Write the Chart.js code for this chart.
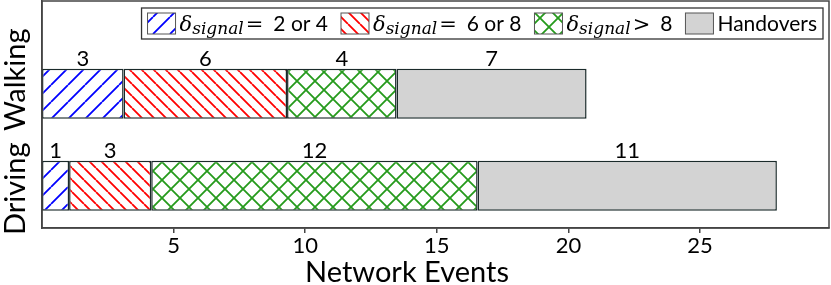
<!DOCTYPE html>
<html>
<head>
<meta charset="utf-8">
<script src="https://cdn.jsdelivr.net/npm/chart.js@4.4.1/dist/chart.umd.min.js"></script>
<style>
  html, body { margin: 0; padding: 0; background: #fff; }
  #wrap { width: 831px; height: 285px; }
</style>
</head>
<body>
<div id="wrap"><canvas id="chart" width="831" height="285"></canvas></div>
<script>
  const CATEGORIES = ['Walking', 'Driving'];
  const SERIES = ['δ_{signal}= 2 or 4', 'δ_{signal}= 6 or 8', 'δ_{signal}> 8', 'Handovers'];
  const WALKING = [3.10, 6.21, 4.16, 7.22];
  const DRIVING = [1.03, 3.12, 12.40, 11.37];
  const WALKING_COUNTS = [3, 6, 4, 7];
  const DRIVING_COUNTS = [1, 3, 12, 11];
  const X_TICKS = [5, 10, 15, 20, 25];
  const X_TITLE = 'Network Events';

  const VALUES = [WALKING, DRIVING];
  const COUNTS = [WALKING_COUNTS, DRIVING_COUNTS];

  const SANS = "Lato, 'DejaVu Sans', sans-serif";
  const MATH = "'DejaVu Serif', serif";
  const FRAME = '#444';
  const EDGE = '#1a2a2a';

  const canvas = document.getElementById('chart');
  const mainCtx = canvas.getContext('2d');

  // hatch tiles: '/', '\\' or 'x'
  function hatch(color, kind, size) {
    const c = document.createElement('canvas');
    c.width = size;
    c.height = size;
    const g = c.getContext('2d');
    g.fillStyle = '#fff';
    g.fillRect(0, 0, size, size);
    g.strokeStyle = color;
    g.lineWidth = 1.8;
    g.beginPath();
    for (let k = -1; k <= 1; k++) {
      if (kind !== '\\') { g.moveTo(k * size, size); g.lineTo(k * size + size, 0); }
      if (kind !== '/') { g.moveTo(k * size, 0); g.lineTo(k * size + size, size); }
    }
    g.stroke();
    return mainCtx.createPattern(c, 'repeat');
  }

  const FILLS = [
    hatch('#0000ff', '/', 17),
    hatch('#ff0000', '\\', 12),
    hatch('#259a1c', 'x', 18),
    '#d3d3d3'
  ];

  // 'δ_{signal}= 2 or 4' -> base, sub, operator, rest
  function parts(label) {
    const m = label.match(/^(.*?)_\{(.*?)\}([=>]?)\s*(.*)$/);
    return m ? { base: m[1], sub: m[2], op: m[3], rest: m[4] } : { base: '', sub: '', op: '', rest: label };
  }

  const yLabels = {
    id: 'yLabels',
    afterDraw(chart) {
      const { ctx } = chart;
      const y = chart.scales.y;
      const shift = [-14, 3];
      ctx.save();
      ctx.font = '29px ' + SANS;
      ctx.fillStyle = '#000';
      ctx.textAlign = 'center';
      ctx.textBaseline = 'alphabetic';
      CATEGORIES.forEach((name, j) => {
        const py = y.getPixelForValue(CATEGORIES.length - 1 - j) + shift[j];
        ctx.save();
        ctx.translate(25, py);
        ctx.rotate(-Math.PI / 2);
        ctx.fillText(name, 0, 0);
        ctx.restore();
      });
      ctx.restore();
    }
  };

  const barLabels = {
    id: 'barLabels',
    afterDatasetsDraw(chart) {
      const { ctx } = chart;
      ctx.save();
      ctx.font = '22px ' + SANS;
      ctx.fillStyle = '#000';
      ctx.textAlign = 'center';
      ctx.textBaseline = 'alphabetic';
      chart.data.datasets.forEach((ds, i) => {
        chart.getDatasetMeta(i).data.forEach((bar, j) => {
          const { x, base, y, height } = bar.getProps(['x', 'base', 'y', 'height'], true);
          ctx.fillText(String(COUNTS[j][i]), (x + base) / 2, y - height / 2 - 3);
        });
      });
      ctx.restore();
    }
  };

  const frameAndLegend = {
    id: 'frameAndLegend',
    afterDraw(chart) {
      const { ctx, chartArea: a } = chart;
      ctx.save();
      ctx.strokeStyle = FRAME;
      ctx.lineWidth = 1.5;
      ctx.strokeRect(a.left, a.top, a.right - a.left, a.bottom - a.top);

      // axis title, sitting a little left of the axes centre like the original
      ctx.font = '29px ' + SANS;
      ctx.fillStyle = '#000';
      ctx.textAlign = 'center';
      ctx.textBaseline = 'alphabetic';
      ctx.fillText(X_TITLE, 407, 282);

      // legend with subscripts
      const fBase = 'italic 21px ' + MATH;
      const fSub = 'italic 17px ' + MATH;
      const fOp = '21px ' + MATH;
      const fRest = '21px ' + SANS;
      const items = SERIES.map((s, i) => {
        const p = parts(s);
        ctx.font = fBase; const wb = ctx.measureText(p.base).width;
        ctx.font = fSub; const ws = ctx.measureText(p.sub).width;
        ctx.font = fOp; const wo = p.op ? ctx.measureText(p.op).width + 12 : 0;
        ctx.font = fRest; const wr = ctx.measureText(p.rest).width;
        return { p, wb, ws, wo, wr, w: 28 + 4 + wb + ws + wo + wr, fill: FILLS[i] };
      });
      const pad = 6, gap = 13, h = 31;
      const total = pad * 2 + items.reduce((t, it) => t + it.w, 0) + gap * (items.length - 1);
      const right = a.right - 6, top = a.top + 7, left = right - total;
      ctx.fillStyle = '#fff';
      ctx.fillRect(left, top, total, h);
      ctx.strokeStyle = '#333';
      ctx.lineWidth = 1.3;
      ctx.strokeRect(left, top, total, h);

      let x = left + pad;
      const baseY = top + 23;
      ctx.textAlign = 'left';
      items.forEach(it => {
        ctx.fillStyle = it.fill;
        ctx.fillRect(x, top + 5, 28, 21);
        ctx.strokeStyle = '#555';
        ctx.lineWidth = 1;
        ctx.strokeRect(x, top + 5, 28, 21);
        let tx = x + 32;
        ctx.fillStyle = '#000';
        if (it.p.base) { ctx.font = fBase; ctx.fillText(it.p.base, tx, baseY); tx += it.wb; }
        if (it.p.sub) { ctx.font = fSub; ctx.fillText(it.p.sub, tx, baseY + 3); tx += it.ws; }
        if (it.p.op) { ctx.font = fOp; ctx.fillText(it.p.op, tx + 2, baseY); tx += it.wo; }
        ctx.font = fRest;
        ctx.fillText(it.p.rest, tx, baseY);
        x += it.w + gap;
      });
      ctx.restore();
    }
  };

  const datasets = SERIES.map((name, i) => ({
    label: name,
    data: CATEGORIES.map((c, j) => ({ x: VALUES[j][i], y: CATEGORIES.length - 1 - j })),
    backgroundColor: FILLS[i],
    borderColor: EDGE,
    borderWidth: 1.5,
    borderSkipped: false,
    grouped: false,
    barPercentage: 0.545,
    categoryPercentage: 1
  }));

  new Chart(canvas, {
    type: 'bar',
    data: { datasets },
    options: {
      responsive: false,
      animation: false,
      devicePixelRatio: 1,
      indexAxis: 'y',
      layout: { padding: { top: 1, right: 2, left: 0, bottom: 0 } },
      plugins: { legend: { display: false }, tooltip: { enabled: false } },
      scales: {
        x: {
          type: 'linear',
          stacked: true,
          min: 0,
          max: 29.9,
          afterBuildTicks: s => { s.ticks = X_TICKS.map(v => ({ value: v })); },
          afterFit: s => { s.height = 57; },
          grid: { display: true, drawOnChartArea: false, drawTicks: true, tickLength: 5, color: FRAME, lineWidth: 1.5 },
          border: { display: true, color: FRAME, width: 1.5 },
          ticks: { font: { family: SANS, size: 22 }, color: '#000', padding: 0, maxRotation: 0, autoSkip: false }
        },
        y: {
          type: 'linear',
          offset: false,
          min: -0.46,
          max: 2.01,
          afterBuildTicks: s => { s.ticks = CATEGORIES.map((c, j) => ({ value: j })); },
          afterFit: s => { s.width = 42; },
          ticks: { display: false },
          grid: { display: false, offset: false },
          border: { display: true, color: FRAME, width: 1.5 }
        }
      }
    },
    plugins: [barLabels, yLabels, frameAndLegend]
  });
</script>
</body>
</html>
